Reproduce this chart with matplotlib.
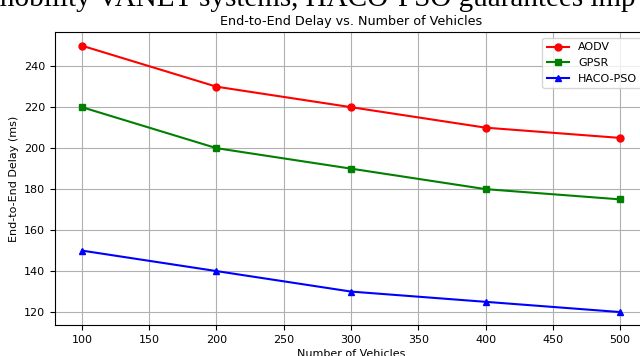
import matplotlib.pyplot as plt

# End-to-end delay (ms) for each routing protocol
vehicles = [100, 200, 300, 400, 500]
aodv_delay = [250, 230, 220, 210, 205]
gpsr_delay = [220, 200, 190, 180, 175]
haco_pso_delay = [150, 140, 130, 125, 120]

caption = "mobility VANET systems, HACO-PSO guarantees imp"

fig = plt.figure(figsize=(6.4, 3.56), dpi=100)
ax = fig.add_axes([0.086, 0.086, 0.925, 0.823])

# surrounding paper text
fig.text(-8 / 640, 1 - 6 / 356, caption, family="Liberation Serif",
         fontsize=21, ha="left", va="baseline")

ax.plot(vehicles, aodv_delay, color="red", marker="o", markersize=5, label="AODV")
ax.plot(vehicles, gpsr_delay, color="green", marker="s", markersize=5, label="GPSR")
ax.plot(vehicles, haco_pso_delay, color="blue", marker="^", markersize=5, label="HACO-PSO")

ax.set_title("End-to-End Delay vs. Number of Vehicles", fontsize=9.2, pad=5)
ax.set_xlabel("Number of Vehicles", fontsize=8, labelpad=3)
ax.set_ylabel("End-to-End Delay (ms)", fontsize=8)
ax.tick_params(labelsize=8)
ax.legend(fontsize=8, loc="upper right")
ax.grid(True)

plt.savefig("out.png", dpi=100)
